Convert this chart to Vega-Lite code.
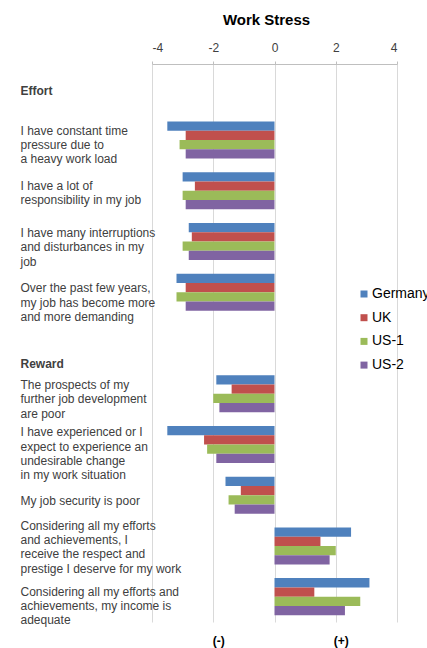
{
  "$schema": "https://vega.github.io/schema/vega-lite/v6.json",
  "width": 245,
  "height": 558,
  "autosize": {"type": "none"},
  "padding": {"left": 152, "top": 64, "right": 30, "bottom": 26},
  "background": "white",
  "config": {
    "view": {"stroke": null},
    "font": "Liberation Sans"
  },
  "title": {
    "text": "Work Stress",
    "fontSize": 15,
    "fontWeight": "bold",
    "font": "Liberation Sans",
    "color": "#000000",
    "anchor": "middle",
    "dx": -8,
    "offset": 13
  },
  "data": {
    "values": [
      {"q": "I have constant time|pressure due to|a heavy work load", "country": "Germany", "value": -3.5},
      {"q": "I have constant time|pressure due to|a heavy work load", "country": "UK", "value": -2.9},
      {"q": "I have constant time|pressure due to|a heavy work load", "country": "US-1", "value": -3.1},
      {"q": "I have constant time|pressure due to|a heavy work load", "country": "US-2", "value": -2.9},
      {"q": "I have a lot of|responsibility in my job", "country": "Germany", "value": -3.0},
      {"q": "I have a lot of|responsibility in my job", "country": "UK", "value": -2.6},
      {"q": "I have a lot of|responsibility in my job", "country": "US-1", "value": -3.0},
      {"q": "I have a lot of|responsibility in my job", "country": "US-2", "value": -2.9},
      {"q": "I have many interruptions|and disturbances in my|job", "country": "Germany", "value": -2.8},
      {"q": "I have many interruptions|and disturbances in my|job", "country": "UK", "value": -2.7},
      {"q": "I have many interruptions|and disturbances in my|job", "country": "US-1", "value": -3.0},
      {"q": "I have many interruptions|and disturbances in my|job", "country": "US-2", "value": -2.8},
      {"q": "Over the past few years,|my job has become more|and more demanding", "country": "Germany", "value": -3.2},
      {"q": "Over the past few years,|my job has become more|and more demanding", "country": "UK", "value": -2.9},
      {"q": "Over the past few years,|my job has become more|and more demanding", "country": "US-1", "value": -3.2},
      {"q": "Over the past few years,|my job has become more|and more demanding", "country": "US-2", "value": -2.9},
      {"q": "The prospects of my|further job development|are poor", "country": "Germany", "value": -1.9},
      {"q": "The prospects of my|further job development|are poor", "country": "UK", "value": -1.4},
      {"q": "The prospects of my|further job development|are poor", "country": "US-1", "value": -2.0},
      {"q": "The prospects of my|further job development|are poor", "country": "US-2", "value": -1.8},
      {"q": "I have experienced or I|expect to experience an|undesirable change|in my work situation", "country": "Germany", "value": -3.5},
      {"q": "I have experienced or I|expect to experience an|undesirable change|in my work situation", "country": "UK", "value": -2.3},
      {"q": "I have experienced or I|expect to experience an|undesirable change|in my work situation", "country": "US-1", "value": -2.2},
      {"q": "I have experienced or I|expect to experience an|undesirable change|in my work situation", "country": "US-2", "value": -1.9},
      {"q": "My job security is poor", "country": "Germany", "value": -1.6},
      {"q": "My job security is poor", "country": "UK", "value": -1.1},
      {"q": "My job security is poor", "country": "US-1", "value": -1.5},
      {"q": "My job security is poor", "country": "US-2", "value": -1.3},
      {"q": "Considering all my efforts|and achievements, I|receive the respect and|prestige I deserve for my work", "country": "Germany", "value": 2.5},
      {"q": "Considering all my efforts|and achievements, I|receive the respect and|prestige I deserve for my work", "country": "UK", "value": 1.5},
      {"q": "Considering all my efforts|and achievements, I|receive the respect and|prestige I deserve for my work", "country": "US-1", "value": 2.0},
      {"q": "Considering all my efforts|and achievements, I|receive the respect and|prestige I deserve for my work", "country": "US-2", "value": 1.8},
      {"q": "Considering all my efforts and|achievements, my income is|adequate", "country": "Germany", "value": 3.1},
      {"q": "Considering all my efforts and|achievements, my income is|adequate", "country": "UK", "value": 1.3},
      {"q": "Considering all my efforts and|achievements, my income is|adequate", "country": "US-1", "value": 2.8},
      {"q": "Considering all my efforts and|achievements, my income is|adequate", "country": "US-2", "value": 2.3}
    ]
  },
  "encoding": {
    "y": {
      "field": "q",
      "type": "nominal",
      "scale": {
        "domain": [
          "Effort",
          "I have constant time|pressure due to|a heavy work load",
          "I have a lot of|responsibility in my job",
          "I have many interruptions|and disturbances in my|job",
          "Over the past few years,|my job has become more|and more demanding",
          "Reward",
          "The prospects of my|further job development|are poor",
          "I have experienced or I|expect to experience an|undesirable change|in my work situation",
          "My job security is poor",
          "Considering all my efforts|and achievements, I|receive the respect and|prestige I deserve for my work",
          "Considering all my efforts and|achievements, my income is|adequate"
        ],
        "paddingInner": 0.27,
        "paddingOuter": 0.135
      },
      "axis": {
        "title": null,
        "orient": "left",
        "domain": false,
        "ticks": false,
        "grid": false,
        "labelAlign": "left",
        "labelBaseline": "middle",
        "labelPadding": 132,
        "labelLimit": 220,
        "labelOverlap": false,
        "labelFont": "Liberation Sans",
        "labelFontSize": 12,
        "labelLineHeight": 14.3,
        "labelColor": "#404040",
        "labelExpr": "split(datum.label, '|')",
        "labelFontWeight": {"condition": {"test": "datum.value == 'Effort' || datum.value == 'Reward'", "value": "bold"}, "value": "normal"},
        "labelOffset": {
          "condition": [
            {"test": "datum.value == 'Effort'", "value": 2},
            {"test": "datum.value == 'Reward'", "value": 21},
            {"test": "indexof(datum.value, 'I have constant') == 0", "value": -9.4},
            {"test": "indexof(datum.value, 'I have a lot') == 0", "value": -4.8},
            {"test": "indexof(datum.value, 'I have many') == 0", "value": -8.5},
            {"test": "indexof(datum.value, 'Over the past') == 0", "value": -4},
            {"test": "indexof(datum.value, 'The prospects') == 0", "value": -8.7},
            {"test": "indexof(datum.value, 'I have experienced') == 0", "value": -12.2},
            {"test": "indexof(datum.value, 'My job security') == 0", "value": 5.5},
            {"test": "indexof(datum.value, 'efforts|and') >= 0", "value": -20.2},
            {"test": "indexof(datum.value, 'efforts and|') >= 0", "value": -4.9}
          ],
          "value": 0
        }
      }
    }
  },
  "layer": [
    {
      "mark": {"type": "bar"},
      "encoding": {
        "x": {
          "field": "value",
          "type": "quantitative",
          "scale": {"domain": [-4, 4], "nice": false, "zero": false},
          "axis": {
            "orient": "top",
            "title": null,
            "values": [-4, -2, 0, 2, 4],
            "labelExpr": "toString(datum.value)",
            "grid": true,
            "gridColor": "#d9d9d9",
            "gridWidth": 1,
            "domain": true,
            "domainColor": "#bfbfbf",
            "ticks": true,
            "tickSize": 3,
            "tickColor": "#bfbfbf",
            "labelPadding": 7,
            "labelFont": "Liberation Sans",
            "labelFontSize": 12,
            "labelColor": "#404040"
          }
        },
        "yOffset": {
          "field": "country",
          "type": "nominal",
          "scale": {"domain": ["Germany", "UK", "US-1", "US-2"], "paddingInner": 0, "paddingOuter": 0}
        },
        "color": {
          "field": "country",
          "type": "nominal",
          "scale": {"domain": ["Germany", "UK", "US-1", "US-2"], "range": ["#4F81BD", "#C0504D", "#9BBB59", "#8064A2"]},
          "legend": {
            "title": null,
            "orient": "none",
            "legendX": 205,
            "legendY": 223,
            "symbolType": "square",
            "symbolSize": 49,
            "symbolStrokeWidth": 0,
            "labelFont": "Liberation Sans",
            "labelFontSize": 14,
            "labelColor": "#000000",
            "labelOffset": 1,
            "rowPadding": 9.7,
            "labelLimit": 200
          }
        }
      }
    },
    {
      "mark": {"type": "point", "opacity": 0},
      "encoding": {
        "x": {
          "field": "value",
          "type": "quantitative",
          "axis": {
            "orient": "bottom",
            "title": null,
            "values": [-2, 2],
            "grid": false,
            "domain": false,
            "ticks": false,
            "labelExpr": "datum.value < 0 ? '(-)' : '(+)'",
            "labelFont": "Liberation Sans",
            "labelFontSize": 12,
            "labelFontWeight": "bold",
            "labelColor": "#000000",
            "labelPadding": 13,
            "labelOffset": 5
          }
        }
      }
    }
  ],
  "resolve": {"axis": {"x": "independent"}}
}
